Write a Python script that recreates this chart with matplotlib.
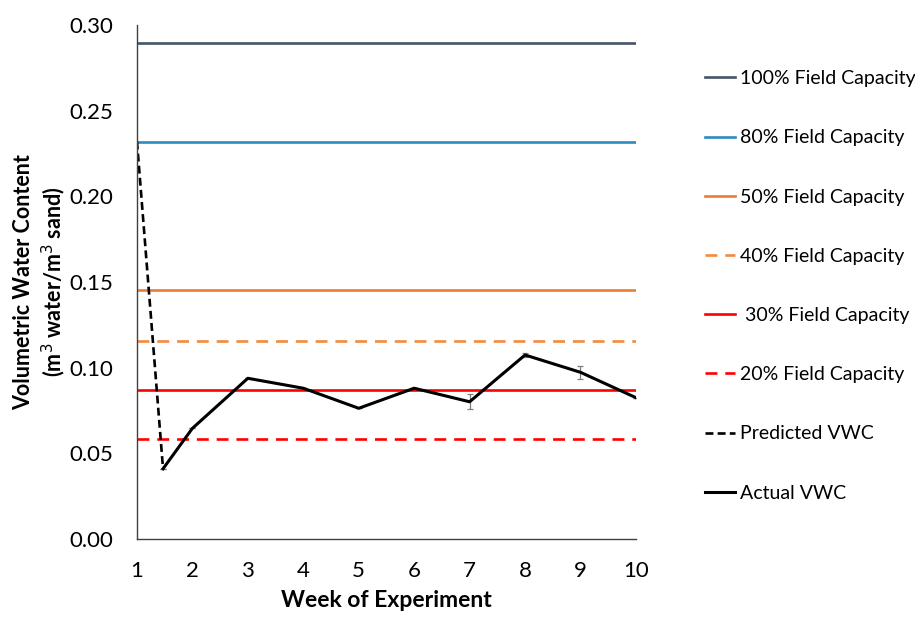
import matplotlib
matplotlib.use('Agg')
from matplotlib import pyplot as plt

plt.rcParams['font.family'] = ['Lato', 'DejaVu Sans']

# field capacity thresholds (m3 water / m3 sand)
fc_labels = ['100% Field Capacity', '80% Field Capacity', '50% Field Capacity',
             '40% Field Capacity', ' 30% Field Capacity', '20% Field Capacity']
fc_values = [0.2895, 0.2317, 0.1453, 0.1156, 0.0870, 0.0584]
fc_colors = ['#44546A', '#2E8BC0', '#ED7D31', '#F28B3E', '#FF0000', '#FF0000']
fc_styles = ['-', '-', '-', (0, (4.5, 3)), '-', (0, (4.5, 3))]

# predicted drawdown after watering
pred_weeks = [1, 1.47]
pred_vwc = [0.232, 0.041]

# measured VWC
weeks = [1.47, 2, 3, 4, 5, 6, 7, 8, 9, 10]
vwc = [0.041, 0.0646, 0.0938, 0.088, 0.0763, 0.088, 0.0801, 0.1074, 0.0973, 0.0825]
vwc_err = [0.0, 0.0, 0.0, 0.0, 0.0, 0.0, 0.0045, 0.001, 0.0038, 0.0]

week_ticks = list(range(1, 11))
vwc_ticks = [0.0, 0.05, 0.10, 0.15, 0.20, 0.25, 0.30]

fig = plt.figure(figsize=(9.15, 6.17), dpi=100)
ax = fig.add_axes([0.1497, 0.1264, 0.5453, 0.8331])

for lab, v, c, ls in zip(fc_labels, fc_values, fc_colors, fc_styles):
    ax.plot([1, 10], [v, v], color=c, linestyle=ls, linewidth=1.9, label=lab)

ax.plot(pred_weeks, pred_vwc, color='black', linestyle=(0, (3, 1.6)), linewidth=1.9,
        label='Predicted VWC')
ax.errorbar(weeks, vwc, yerr=vwc_err, fmt='none', ecolor='#7F7F7F', elinewidth=0.9,
            capsize=2.5, capthick=0.9, zorder=3)
ax.plot(weeks, vwc, color='black', linewidth=2.2, label='Actual VWC', zorder=4)

ax.set_xlim(1, 10)
ax.set_ylim(0, 0.30)
ax.set_xticks(week_ticks)
ax.set_yticks(vwc_ticks)
ax.set_yticklabels(['{:.2f}'.format(t) for t in vwc_ticks])
ax.tick_params(length=0, labelsize=16, colors='#000000')
ax.tick_params(axis='y', pad=17)
ax.tick_params(axis='x', pad=16)
for s in ['top', 'right']:
    ax.spines[s].set_visible(False)
for s in ['left', 'bottom']:
    ax.spines[s].set_color('#404040')
    ax.spines[s].set_linewidth(1.0)

ax.set_xlabel('Week of Experiment', fontsize=16.5, fontweight='bold', labelpad=6)
ax.set_ylabel('Volumetric Water Content\n(m$^3$ water/m$^3$ sand)', fontsize=15.5,
              fontweight='bold', labelpad=1, linespacing=1.25)

leg = ax.legend(loc='upper left', bbox_to_anchor=(1.138, 0.912), frameon=False,
                fontsize=14, handlelength=1.55, handletextpad=0.26, labelspacing=2.17,
                borderaxespad=0, borderpad=0)

fig.savefig('out.png', dpi=100)
